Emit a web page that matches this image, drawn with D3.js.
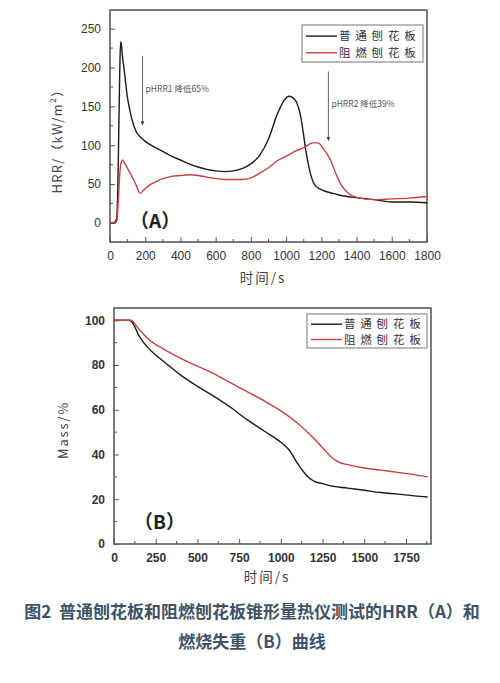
<!DOCTYPE html>
<html>
<head>
<meta charset="utf-8">
<script src="https://cdn.jsdelivr.net/npm/d3@7"></script>
<style>
  body { margin: 0; background: #fff; }
  svg { display: block; }
</style>
</head>
<body>
<div id="chart"></div>
<script>
// --- data ---
var seriesNames = ["普通刨花板", "阻燃刨花板"];

// (A) heat release rate, [time s, HRR kW/m2]
var hrrPlain = [[0,0],[20,0],[30,2],[38,6],[44,40],[50,120],[55,190],[60,233],[65,229],[70,216],[80,198],[90,178],[100,160],[110,148],[125,133],[150,117],[180,109],[200,105],[250,98],[300,92],[350,86],[400,81],[450,76],[500,72],[550,69],[600,67],[650,66],[700,67],[750,70],[800,76],[850,87],[900,108],[950,140],[990,158],[1015,163],[1040,161],[1060,155],[1080,140],[1095,120],[1110,96],[1125,77],[1145,58],[1165,48],[1200,43],[1266,38],[1300,36],[1418,32],[1500,30],[1600,27],[1700,27],[1800,26]];
var hrrFR = [[0,0],[30,0],[40,5],[46,25],[52,50],[60,74],[70,81],[80,78],[100,70],[120,62],[150,48],[170,38],[190,42],[220,48],[260,53],[300,57],[350,60],[400,61],[450,62],[500,61],[550,59],[600,57],[650,56],[700,56],[750,56],[800,58],[850,64],[900,71],[950,80],[1000,86],[1050,92],[1100,97],[1150,103],[1180,103],[1210,96],[1250,82],[1280,65],[1310,50],[1350,39],[1400,33],[1500,30],[1600,31],[1700,32],[1800,34]];

// (B) mass loss, [time s, mass %]
var massPlain = [[0,100],[90,100],[110,99],[150,93],[200,88],[250,84.5],[300,81.5],[400,75.5],[500,70.5],[600,66],[700,61],[800,55.5],[900,50.5],[1000,45.5],[1050,42],[1100,36],[1150,31],[1200,28],[1250,27],[1300,26],[1400,25],[1500,24],[1600,23],[1700,22.3],[1800,21.5],[1880,21]];
var massFR = [[0,100],[100,100],[150,96],[200,92],[300,87],[400,83],[500,79.5],[600,76],[700,72],[800,68],[900,64],[1000,59.5],[1100,54],[1200,47],[1250,43],[1300,39],[1350,36.5],[1400,35.5],[1500,34],[1600,33],[1700,32],[1800,31],[1880,30]];

var hrrXTicks = [0,200,400,600,800,1000,1200,1400,1600,1800];
var hrrYTicks = [0,50,100,150,200,250];
var massXTicks = [0,250,500,750,1000,1250,1500,1750];
var massYTicks = [0,20,40,60,80,100];

var notes = [
  {x: 185, yTop: 215, yBot: 128, label: "pHRR1 降低65%"},
  {x: 1240, yTop: 195, yBot: 108, label: "pHRR2 降低39%"}
];

var captionLines = ["图2\u00a0\u00a0普通刨花板和阻燃刨花板锥形量热仪测试的HRR（A）和", "燃烧失重（B）曲线"];

var colors = ["#1a1a1a", "#c8413f"];
var sansFont = "'Liberation Sans', Arial, sans-serif";
var cjkFont = "'Noto Sans CJK SC', sans-serif";

var W = 500, H = 683;
var svg = d3.select("#chart").append("svg")
    .attr("width", W)
    .attr("height", H);

svg.append("defs").append("marker")
    .attr("id", "arrow")
    .attr("viewBox", "0 0 10 10")
    .attr("refX", 5).attr("refY", 5)
    .attr("markerWidth", 5).attr("markerHeight", 6)
    .attr("orient", "auto")
  .append("path")
    .attr("d", "M0,1 L10,5 L0,9 Z")
    .attr("fill", "#444");

function drawPanel(opt) {
    var x = d3.scaleLinear().domain(opt.xDomain).range([opt.left, opt.right]);
    var y = d3.scaleLinear().domain(opt.yDomain).range([opt.bottom, opt.top]);
    var g = svg.append("g");

    // frame
    g.append("rect")
        .attr("x", opt.left).attr("y", opt.top)
        .attr("width", opt.right - opt.left)
        .attr("height", opt.bottom - opt.top)
        .attr("fill", "#fff")
        .attr("stroke", "#444")
        .attr("stroke-width", 1.4);

    // minor ticks
    var xMinor = [], yMinor = [];
    for (var i = 0; i < opt.xTicks.length; i++) {
        var m = opt.xTicks[i] + opt.xStep / 2;
        if (m < opt.xDomain[1]) xMinor.push(m);
    }
    for (var j = 0; j < opt.yTicks.length; j++) {
        var n = opt.yTicks[j] + opt.yStep / 2;
        if (n < opt.yDomain[1]) yMinor.push(n);
    }
    if (opt.yDomain[0] < opt.yTicks[0] - opt.yStep / 2) yMinor.push(opt.yTicks[0] - opt.yStep / 2);

    var fmt = d3.format("d");
    var xAxis = g.append("g")
        .attr("transform", "translate(0," + opt.bottom + ")")
        .call(d3.axisBottom(x).tickValues(opt.xTicks).tickFormat(fmt).tickSizeInner(-5).tickSizeOuter(0).tickPadding(9));
    xAxis.append("g").selectAll("line").data(xMinor).enter().append("line")
        .attr("x1", function(d) { return x(d); }).attr("x2", function(d) { return x(d); })
        .attr("y1", 0).attr("y2", -3).attr("stroke", "#555");

    var yAxis = g.append("g")
        .attr("transform", "translate(" + opt.left + ",0)")
        .call(d3.axisLeft(y).tickValues(opt.yTicks).tickFormat(fmt).tickSizeInner(-5).tickSizeOuter(0).tickPadding(9));
    yAxis.append("g").selectAll("line").data(yMinor).enter().append("line")
        .attr("y1", function(d) { return y(d); }).attr("y2", function(d) { return y(d); })
        .attr("x1", 0).attr("x2", 3).attr("stroke", "#555");

    [xAxis, yAxis].forEach(function(a) {
        a.select(".domain").remove();
        a.selectAll(".tick line").attr("stroke", "#555");
        a.selectAll("text")
            .attr("font-family", sansFont)
            .attr("font-size", 12)
            .attr("font-weight", opt.boldTicks ? "bold" : "normal")
            .attr("fill", "#333");
    });

    // curves
    var line = d3.line()
        .x(function(d) { return x(d[0]); })
        .y(function(d) { return y(d[1]); })
        .curve(d3.curveMonotoneX);
    opt.series.forEach(function(s, k) {
        g.append("path")
            .datum(s)
            .attr("d", line)
            .attr("fill", "none")
            .attr("stroke", colors[k])
            .attr("stroke-width", 1.4);
    });

    // legend
    var lg = g.append("g");
    lg.append("rect")
        .attr("x", opt.legend.x).attr("y", opt.legend.y)
        .attr("width", opt.legend.w).attr("height", opt.legend.h)
        .attr("fill", "#fff").attr("stroke", "#777").attr("stroke-width", 1);
    seriesNames.forEach(function(name, k) {
        var ly = opt.legend.y + opt.legend.h * (k === 0 ? 0.3 : 0.75);
        lg.append("line")
            .attr("x1", opt.legend.x + 4).attr("x2", opt.legend.x + 35)
            .attr("y1", ly).attr("y2", ly)
            .attr("stroke", colors[k]).attr("stroke-width", 1.4);
        lg.append("text")
            .attr("x", opt.legend.x + 37).attr("y", ly + 4)
            .attr("font-family", cjkFont)
            .attr("font-size", 11.5)
            .attr("letter-spacing", 4.8)
            .attr("fill", "#333")
            .text(name);
    });

    // panel tag
    g.append("text")
        .attr("x", opt.tag.x).attr("y", opt.tag.y)
        .attr("font-family", cjkFont)
        .attr("font-size", 19)
        .attr("font-weight", "bold")
        .attr("fill", "#222")
        .text(opt.tag.text);

    // axis titles
    g.append("text")
        .attr("transform", "translate(" + opt.yTitle.x + "," + opt.yTitle.y + ") rotate(-90)")
        .attr("text-anchor", "middle")
        .attr("font-family", cjkFont)
        .attr("font-size", 13)
        .attr("letter-spacing", opt.yTitle.spacing)
        .attr("fill", "#444")
        .text(opt.yTitle.text);
    g.append("text")
        .attr("x", opt.xTitle.x).attr("y", opt.xTitle.y)
        .attr("text-anchor", "middle")
        .attr("font-family", cjkFont)
        .attr("font-size", 13.5)
        .attr("letter-spacing", 2)
        .attr("fill", "#444")
        .text("时间/s");

    return {x: x, y: y, g: g};
}

var panelA = drawPanel({
    left: 110, right: 427, top: 10, bottom: 242,
    xDomain: [0, 1800], yDomain: [-24.5, 274],
    xTicks: hrrXTicks, yTicks: hrrYTicks, xStep: 200, yStep: 50,
    boldTicks: false,
    series: [hrrPlain, hrrFR],
    legend: {x: 302, y: 25, w: 121, h: 37},
    tag: {x: 130, y: 228, text: "（A）"},
    yTitle: {x: 62, y: 138, text: "HRR/（kW/m²）", spacing: 1.2},
    xTitle: {x: 263, y: 283}
});

// annotation arrows on (A)
notes.forEach(function(nt) {
    panelA.g.append("line")
        .attr("x1", panelA.x(nt.x)).attr("x2", panelA.x(nt.x))
        .attr("y1", panelA.y(nt.yTop)).attr("y2", panelA.y(nt.yBot))
        .attr("stroke", "#555").attr("stroke-width", 0.9)
        .attr("marker-end", "url(#arrow)");
    panelA.g.append("text")
        .attr("x", panelA.x(nt.x) + 3).attr("y", panelA.y((nt.yTop + nt.yBot) / 2) + 2)
        .attr("font-family", cjkFont)
        .attr("font-size", 8.5)
        .attr("fill", "#555")
        .text(nt.label);
});

drawPanel({
    left: 114, right: 431, top: 308, bottom: 544,
    xDomain: [0, 1900], yDomain: [0, 105.5],
    xTicks: massXTicks, yTicks: massYTicks, xStep: 250, yStep: 20,
    boldTicks: true,
    series: [massPlain, massFR],
    legend: {x: 307, y: 314, w: 120, h: 34},
    tag: {x: 134, y: 529, text: "（B）"},
    yTitle: {x: 68, y: 430, text: "Mass/%", spacing: 1.8},
    xTitle: {x: 267, y: 582}
});

// caption
captionLines.forEach(function(t, i) {
    svg.append("text")
        .attr("x", 252).attr("y", 618 + i * 30)
        .attr("text-anchor", "middle")
        .attr("font-family", cjkFont)
        .attr("font-size", 17)
        .attr("font-weight", "bold")
        .attr("fill", "#3e5266")
        .text(t);
});
</script>
</body>
</html>
